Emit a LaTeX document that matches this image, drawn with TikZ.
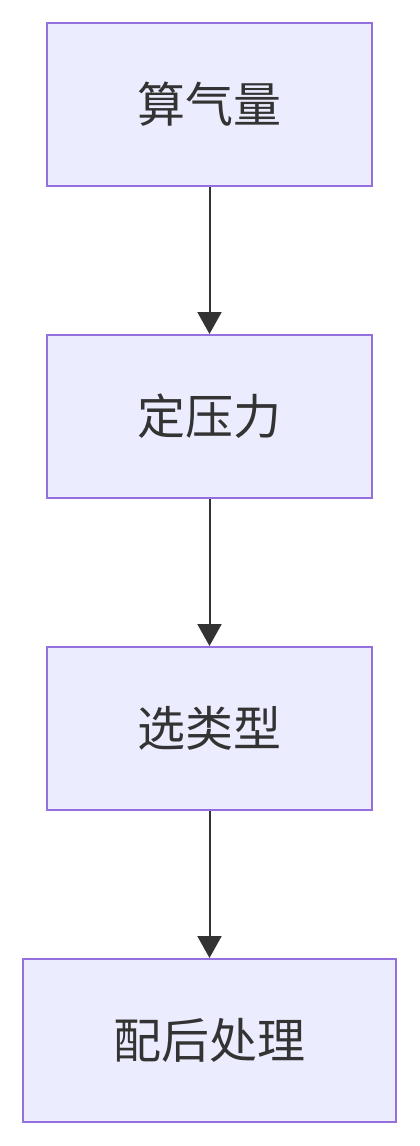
\documentclass[tikz,border=0pt]{standalone}
\usepackage{fontspec}
\newfontfamily\cjk{Noto Sans CJK SC}
\usetikzlibrary{positioning,arrows.meta}
\definecolor{boxfill}{HTML}{ECECFF}
\definecolor{boxline}{HTML}{9370DB}
\definecolor{ink}{HTML}{333333}
\tikzset{
    stepbox/.style={draw=boxline, fill=boxfill, line width=2pt, minimum height=163pt, inner sep=0pt, text=ink, font=\cjk\fontsize{48}{56}\selectfont},
    flow/.style={draw=ink, line width=2pt, -{Triangle[length=22pt, width=24pt]}}
}
\begin{document}
\begin{tikzpicture}[x=1pt, y=-1pt]
    \useasboundingbox (0,0) rectangle (420,1146);
    \node [stepbox, minimum width=325pt] (suan) at (209.5, 104.5) {算气量};
    \node [stepbox, minimum width=325pt] (ding) at (209.5, 416.5) {定压力};
    \node [stepbox, minimum width=325pt] (xuan) at (209.5, 728.5) {选类型};
    \node [stepbox, minimum width=373pt] (pei) at (209.5, 1040.5) {配后处理};
    \draw [flow] (suan) -- (ding);
    \draw [flow] (ding) -- (xuan);
    \draw [flow] (xuan) -- (pei);
\end{tikzpicture}
\end{document}
